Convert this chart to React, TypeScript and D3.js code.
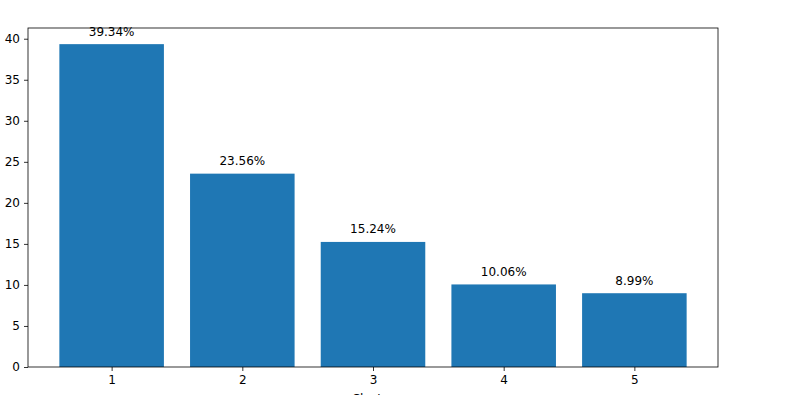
import React, { useEffect, useRef } from "react";
import * as d3 from "d3";

// bar categories and values (percent share)
const categories = [1, 2, 3, 4, 5];
const shares = [39.34, 23.56, 15.24, 10.06, 8.99];
const yTicks = [0, 5, 10, 15, 20, 25, 30, 35, 40];
const xLabel = "Cluster";

export default function App() {
  const ref = useRef<SVGSVGElement>(null);

  useEffect(() => {
    const svg = d3.select(ref.current);
    svg.selectAll("*").remove();

    const margin = { top: 28, right: 82, bottom: 28, left: 28 };
    const width = 800 - margin.left - margin.right;
    const height = 395 - margin.top - margin.bottom;

    // matplotlib style limits: bars of width 0.8 plus 5% margin
    const x = d3.scaleLinear().domain([0.36, 5.64]).range([0, width]);
    const y = d3
      .scaleLinear()
      .domain([0, d3.max(shares)! * 1.05])
      .range([height, 0]);

    const g = svg
      .append("g")
      .attr("transform", `translate(${margin.left},${margin.top})`);

    g.selectAll("rect.bar")
      .data(shares)
      .enter()
      .append("rect")
      .attr("class", "bar")
      .attr("x", (d, i) => x(categories[i] - 0.4))
      .attr("width", x(1.8) - x(1))
      .attr("y", (d) => y(d))
      .attr("height", (d) => height - y(d))
      .attr("fill", "#1f77b4");

    // value labels
    g.selectAll("text.lbl")
      .data(shares)
      .enter()
      .append("text")
      .attr("class", "lbl")
      .attr("x", (d, i) => x(categories[i]))
      .attr("y", (d) => y(d) - 8.5)
      .attr("text-anchor", "middle")
      .attr("font-size", 12)
      .attr("fill", "#000")
      .text((d) => d.toFixed(2) + "%");

    // y axis
    const yAxis = g
      .append("g")
      .call(d3.axisLeft(y).tickValues(yTicks).tickSize(4).tickPadding(4));
    // x axis
    const xAxis = g
      .append("g")
      .attr("transform", `translate(0,${height})`)
      .call(
        d3
          .axisBottom(x)
          .tickValues(categories)
          .tickFormat(d3.format("d"))
          .tickSize(4)
          .tickPadding(4)
      );
    [yAxis, xAxis].forEach((a) => {
      a.select(".domain").remove();
      a.selectAll("text")
        .attr("font-size", 12)
        .attr("font-family", "DejaVu Sans")
        .attr("fill", "#000");
      a.selectAll("line").attr("stroke", "#000").attr("stroke-width", 0.8);
    });

    // frame
    g.append("rect")
      .attr("x", 0)
      .attr("y", 0)
      .attr("width", width)
      .attr("height", height)
      .attr("fill", "none")
      .attr("stroke", "#000")
      .attr("stroke-width", 0.8);

    // x label, mostly cut off at the bottom edge as in the original
    g.append("text")
      .attr("x", width / 2)
      .attr("y", height + 36)
      .attr("text-anchor", "middle")
      .attr("font-size", 12)
      .attr("fill", "#000")
      .text(xLabel);
  }, []);

  return (
    <svg
      ref={ref}
      width={800}
      height={395}
      style={{
        position: "absolute",
        left: 0,
        top: 0,
        fontFamily: "DejaVu Sans",
        background: "#fff",
      }}
    />
  );
}
